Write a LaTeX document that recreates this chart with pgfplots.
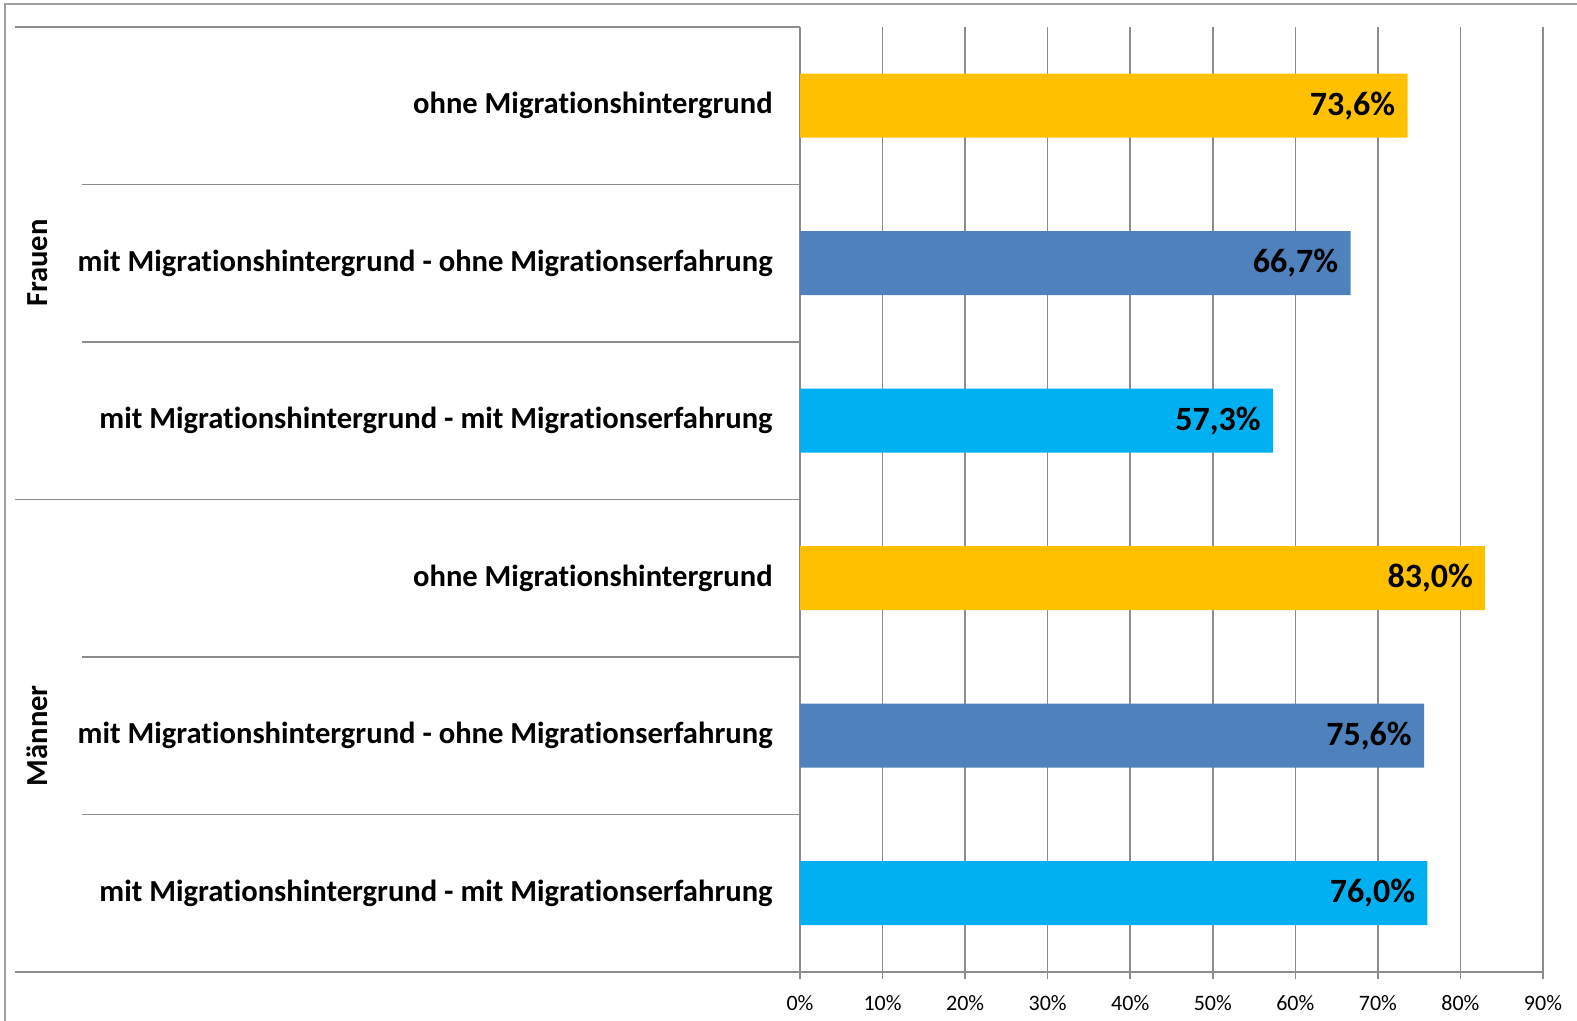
\documentclass[border=0pt]{standalone}
\usepackage{pgfplots}
\pgfplotsset{compat=1.18}
\usepackage{fontspec}
\setmainfont[Ligatures={NoCommon,NoRare}]{Carlito}
\definecolor{gridc}{RGB}{140,140,140}
\definecolor{framec}{RGB}{160,160,160}
\definecolor{cgold}{RGB}{255,192,0}
\definecolor{cblue}{RGB}{79,129,189}
\definecolor{ccyan}{RGB}{0,176,240}
\begin{document}
\begin{tikzpicture}[x=1pt,y=1pt]
\useasboundingbox (0,0) rectangle (788.5,510.5);
\begin{axis}[
  at={(400pt,24.5pt)}, anchor=south west,
  scale only axis, width=371.5pt, height=472.5pt,
  xmin=0, xmax=90, ymin=0, ymax=6,
  axis line style={draw=none},
  xtick={0,10,...,90},
  xticklabels={0\%,10\%,20\%,30\%,40\%,50\%,60\%,70\%,80\%,90\%},
  xtick pos=bottom, tick align=outside, major tick length=3.5pt,
  x tick style={gridc, line width=0.75pt},
  xmajorgrids, grid style={gridc, line width=0.75pt},
  xticklabel style={font=\fontsize{11}{13}\selectfont, inner sep=0pt, anchor=north},
  x tick label style={yshift=-8pt},
  ytick={0.5,1.5,2.5,3.5,4.5,5.5},
  yticklabels={mit Migrationshintergrund - mit Migrationserfahrung,
               mit Migrationshintergrund - ohne Migrationserfahrung,
               ohne Migrationshintergrund,
               mit Migrationshintergrund - mit Migrationserfahrung,
               mit Migrationshintergrund - ohne Migrationserfahrung,
               ohne Migrationshintergrund},
  y tick style={draw=none},
  yticklabel style={font=\bfseries\fontsize{15.3}{18}\selectfont, inner sep=0pt, anchor=east, xshift=-10pt},
  xbar, bar width=32pt, bar shift=0pt,
  point meta=x,
  nodes near coords={\pgfmathprintnumber[fixed,fixed zerofill,precision=1,use comma,assume math mode=true]{\pgfplotspointmeta}\%},
  nodes near coords style={anchor=east, inner sep=0pt, xshift=-6pt, font=\bfseries\fontsize{17}{20}\selectfont, text=black},
  clip=false,
]
\addplot[draw=none, fill=cgold] coordinates {(73.6,5.5) (83.0,2.5)};
\addplot[draw=none, fill=cblue] coordinates {(66.7,4.5) (75.6,1.5)};
\addplot[draw=none, fill=ccyan] coordinates {(57.3,3.5) (76.0,0.5)};
\end{axis}
% separators in the label area
\draw[gridc, line width=0.75pt] (7.5,497) -- (400,497);
\draw[gridc, line width=0.75pt] (41,418.25) -- (400,418.25);
\draw[gridc, line width=0.75pt] (41,339.5) -- (400,339.5);
\draw[gridc, line width=0.75pt] (7.5,260.75) -- (400,260.75);
\draw[gridc, line width=0.75pt] (41,182) -- (400,182);
\draw[gridc, line width=0.75pt] (41,103.25) -- (400,103.25);
\draw[gridc, line width=0.75pt] (7.5,24.5) -- (771.5,24.5);
% group labels
\node[rotate=90, font=\bfseries\fontsize{15.3}{18}\selectfont] at (18.6,378.9) {Frauen};
\node[rotate=90, font=\bfseries\fontsize{15.3}{18}\selectfont] at (18.6,142.6) {Männer};
% frame
\draw[framec, line width=0.75pt] (2.5,0) -- (2.5,508.5) -- (788.5,508.5);
\end{tikzpicture}
\end{document}
